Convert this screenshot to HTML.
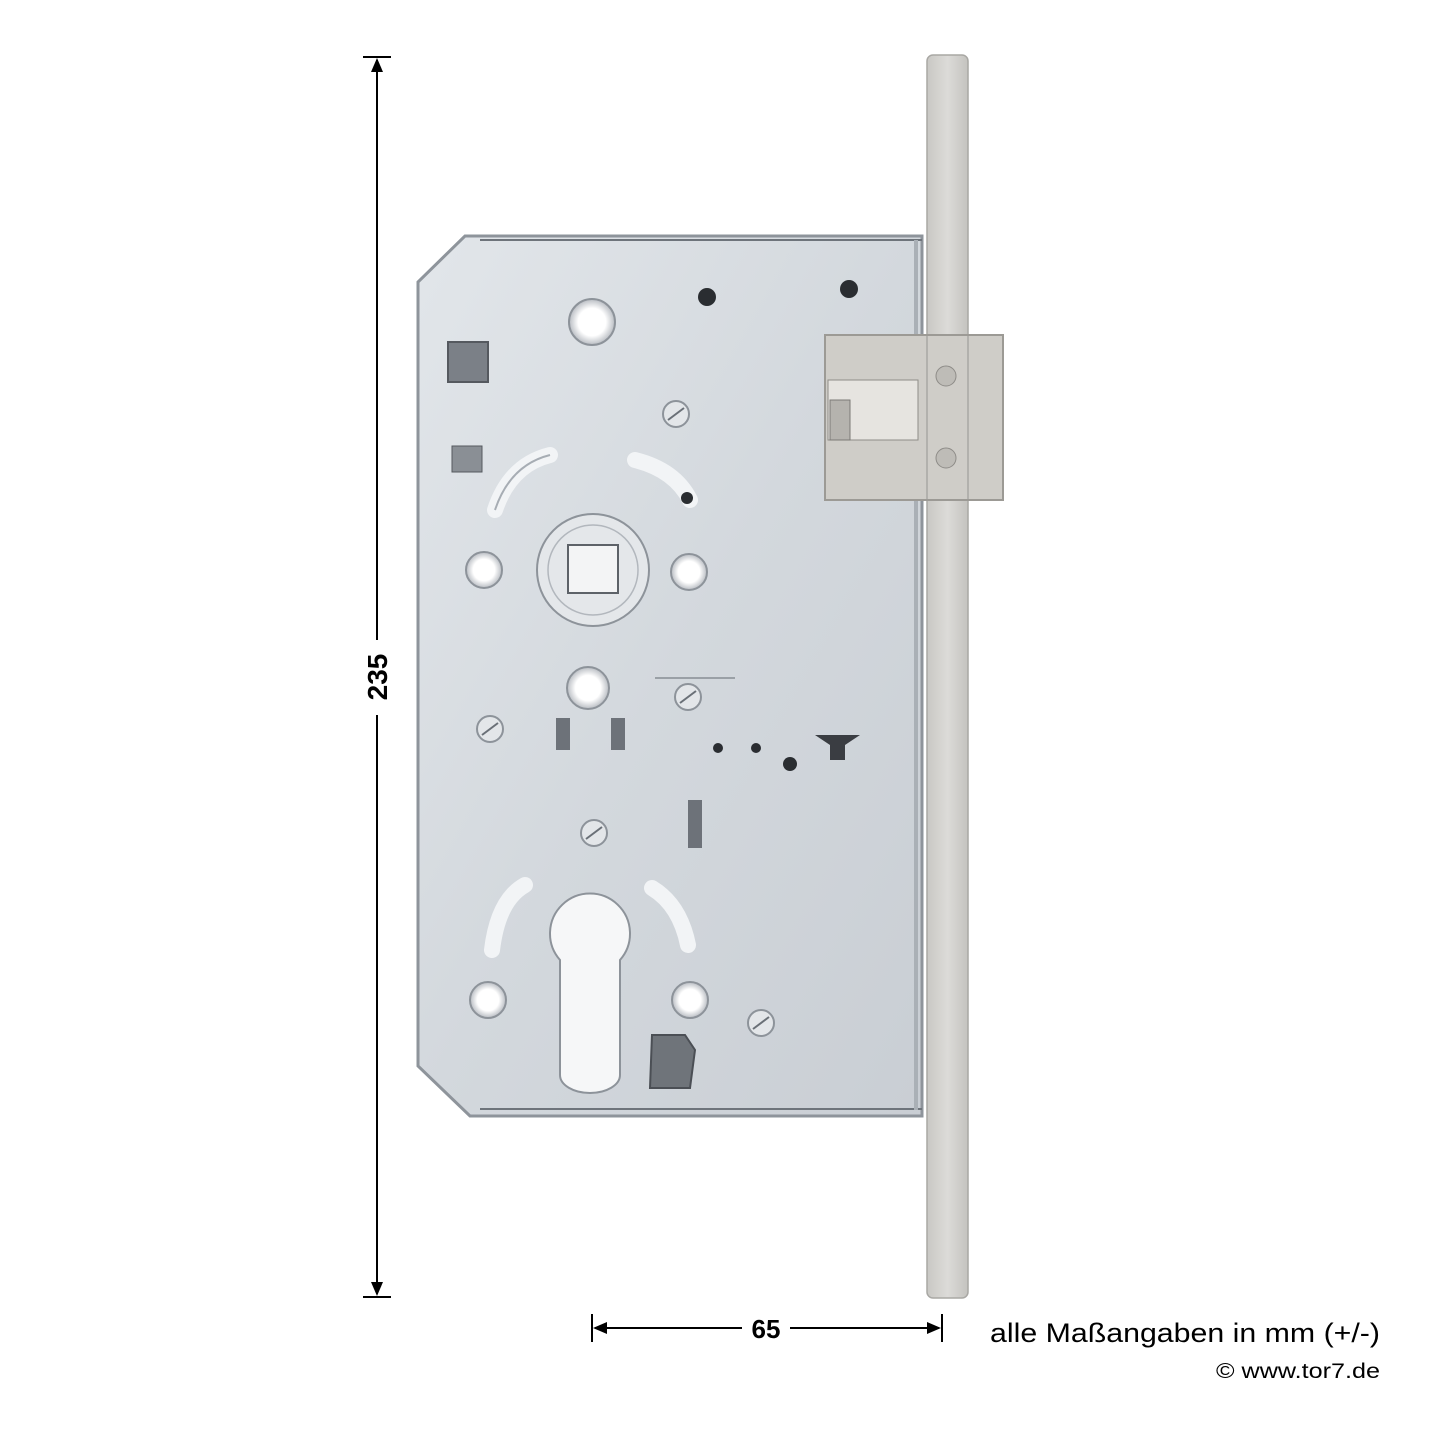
<!DOCTYPE html>
<html><head><meta charset="utf-8"><style>
html,body{margin:0;padding:0;background:#fff;}
svg{display:block;}
</style></head><body>
<svg width="1440" height="1440" viewBox="0 0 1440 1440" xmlns="http://www.w3.org/2000/svg">
<defs>
<linearGradient id="body" x1="0" y1="0" x2="1" y2="1">
<stop offset="0" stop-color="#e2e6ea"/><stop offset="0.5" stop-color="#d3d8dd"/><stop offset="1" stop-color="#c9ced4"/>
</linearGradient>
<linearGradient id="plate" x1="0" y1="0" x2="1" y2="0">
<stop offset="0" stop-color="#c9c8c4"/><stop offset="0.5" stop-color="#dcdbd8"/><stop offset="1" stop-color="#c4c3bf"/>
</linearGradient>
<radialGradient id="hole" cx="0.5" cy="0.5" r="0.5">
<stop offset="0.6" stop-color="#ffffff"/><stop offset="1" stop-color="#b8bcc2"/>
</radialGradient>
</defs>
<rect width="1440" height="1440" fill="#fff"/>

<!-- vertical dimension -->
<line x1="363" y1="57" x2="391" y2="57" stroke="#000" stroke-width="2"/>
<line x1="363" y1="1297" x2="391" y2="1297" stroke="#000" stroke-width="2"/>
<line x1="377" y1="60" x2="377" y2="640" stroke="#000" stroke-width="2"/>
<line x1="377" y1="715" x2="377" y2="1294" stroke="#000" stroke-width="2"/>
<polygon points="377,58 371,72 383,72" fill="#000"/>
<polygon points="377,1296 371,1282 383,1282" fill="#000"/>
<text x="0" y="0" transform="translate(387,677) rotate(-90)" text-anchor="middle" font-family="Liberation Sans, sans-serif" font-weight="bold" font-size="28" fill="#000">235</text>

<!-- horizontal dimension -->
<line x1="592" y1="1314" x2="592" y2="1342" stroke="#000" stroke-width="2"/>
<line x1="942" y1="1314" x2="942" y2="1342" stroke="#000" stroke-width="2"/>
<line x1="595" y1="1328" x2="742" y2="1328" stroke="#000" stroke-width="2"/>
<line x1="790" y1="1328" x2="939" y2="1328" stroke="#000" stroke-width="2"/>
<polygon points="593,1328 607,1322 607,1334" fill="#000"/>
<polygon points="941,1328 927,1322 927,1334" fill="#000"/>
<text x="766" y="1338" text-anchor="middle" font-family="Liberation Sans, sans-serif" font-weight="bold" font-size="26" fill="#000">65</text>

<text x="990" y="1342" textLength="390" lengthAdjust="spacingAndGlyphs" font-family="Liberation Sans, sans-serif" font-size="27" fill="#000">alle Maßangaben in mm (+/-)</text>
<text x="1216" y="1378" textLength="164" lengthAdjust="spacingAndGlyphs" font-family="Liberation Sans, sans-serif" font-size="21" fill="#000">© www.tor7.de</text>

<!-- faceplate -->
<rect x="927" y="55" width="41" height="1243" rx="6" fill="url(#plate)" stroke="#a9a8a4" stroke-width="1.5"/>

<!-- lock body -->
<polygon points="465,236 922,236 922,1116 470,1116 418,1066 418,282" fill="url(#body)" stroke="#8e949b" stroke-width="3"/>
<line x1="480" y1="240" x2="922" y2="240" stroke="#6e747b" stroke-width="2"/>
<line x1="480" y1="1109" x2="922" y2="1109" stroke="#6e747b" stroke-width="2"/>
<line x1="916" y1="240" x2="916" y2="1110" stroke="#aab0b6" stroke-width="4"/>

<!-- latch -->
<rect x="825" y="335" width="178" height="165" fill="#cfcdc8" stroke="#9c9a95" stroke-width="2"/>
<line x1="927" y1="336" x2="927" y2="499" stroke="#a9a8a4" stroke-width="1.5"/>
<line x1="968" y1="336" x2="968" y2="499" stroke="#a9a8a4" stroke-width="1.5"/>
<rect x="828" y="380" width="90" height="60" fill="#e6e4e0" stroke="#8f8d88"/>
<rect x="830" y="400" width="20" height="40" fill="#b5b3ae" stroke="#7c7a76"/>
<circle cx="946" cy="376" r="10" fill="#bebcb7" stroke="#8e8c88"/>
<circle cx="946" cy="458" r="10" fill="#bebcb7" stroke="#8e8c88"/>

<!-- top holes -->
<circle cx="592" cy="322" r="23" fill="url(#hole)" stroke="#8d939a" stroke-width="2"/>
<circle cx="707" cy="297" r="9" fill="#2a2d31"/>
<circle cx="849" cy="289" r="9" fill="#2a2d31"/>
<rect x="448" y="342" width="40" height="40" fill="#7b8087" stroke="#55595f" stroke-width="2"/>
<rect x="452" y="446" width="30" height="26" fill="#8a8f95" stroke="#55595f"/>

<!-- arcs around hub -->
<path d="M495,510 Q510,465 550,455" fill="none" stroke="#f2f4f6" stroke-width="16" stroke-linecap="round"/>
<path d="M495,510 Q510,465 550,455" fill="none" stroke="#a7adb4" stroke-width="2"/>
<path d="M635,460 Q675,470 690,500" fill="none" stroke="#f2f4f6" stroke-width="16" stroke-linecap="round"/>
<circle cx="687" cy="498" r="6" fill="#2a2d31"/>

<!-- hub -->
<circle cx="593" cy="570" r="56" fill="#e4e7ea" stroke="#8d939a" stroke-width="2"/>
<circle cx="593" cy="570" r="45" fill="none" stroke="#b2b7bd" stroke-width="1.5"/>
<rect x="568" y="545" width="50" height="48" fill="#f3f4f5" stroke="#5d6268" stroke-width="2"/>
<circle cx="484" cy="570" r="18" fill="url(#hole)" stroke="#8d939a" stroke-width="2"/>
<circle cx="689" cy="572" r="18" fill="url(#hole)" stroke="#8d939a" stroke-width="2"/>

<circle cx="588" cy="688" r="21" fill="url(#hole)" stroke="#8d939a" stroke-width="2"/>
<rect x="556" y="718" width="14" height="32" fill="#6d7279"/>
<rect x="611" y="718" width="14" height="32" fill="#6d7279"/>
<rect x="688" y="800" width="14" height="48" fill="#6d7279"/>
<line x1="655" y1="678" x2="735" y2="678" stroke="#9aa0a6" stroke-width="2"/>

<!-- screws -->
<g fill="#e3e6e9" stroke="#8d939a" stroke-width="2">
<circle cx="676" cy="414" r="13"/><circle cx="688" cy="697" r="13"/><circle cx="490" cy="729" r="13"/>
<circle cx="594" cy="833" r="13"/><circle cx="761" cy="1023" r="13"/>
</g>
<g stroke="#6a7077" stroke-width="2">
<line x1="668" y1="420" x2="684" y2="408"/><line x1="680" y1="703" x2="696" y2="691"/>
<line x1="482" y1="735" x2="498" y2="723"/><line x1="586" y1="839" x2="602" y2="827"/>
<line x1="753" y1="1029" x2="769" y2="1017"/>
</g>
<circle cx="718" cy="748" r="5" fill="#2a2d31"/>
<circle cx="756" cy="748" r="5" fill="#2a2d31"/>
<circle cx="790" cy="764" r="7" fill="#2a2d31"/>
<path d="M815,735 L860,735 L845,745 L845,760 L830,760 L830,745 Z" fill="#3a3d42"/>

<!-- lower arcs -->
<path d="M492,950 Q498,900 525,885" fill="none" stroke="#f2f4f6" stroke-width="16" stroke-linecap="round"/>
<path d="M652,888 Q680,905 688,945" fill="none" stroke="#f2f4f6" stroke-width="16" stroke-linecap="round"/>

<!-- cylinder cutout -->
<path d="M560,1075 L560,960 A40,40 0 1,1 620,960 L620,1075 A30,18 0 0,1 560,1075 Z" fill="#f6f7f8" stroke="#8d939a" stroke-width="2"/>
<circle cx="488" cy="1000" r="18" fill="url(#hole)" stroke="#8d939a" stroke-width="2"/>
<circle cx="690" cy="1000" r="18" fill="url(#hole)" stroke="#8d939a" stroke-width="2"/>
<polygon points="652,1035 685,1035 695,1050 690,1088 650,1088" fill="#6f747a" stroke="#4b4f55" stroke-width="2"/>
</svg>
</body></html>
